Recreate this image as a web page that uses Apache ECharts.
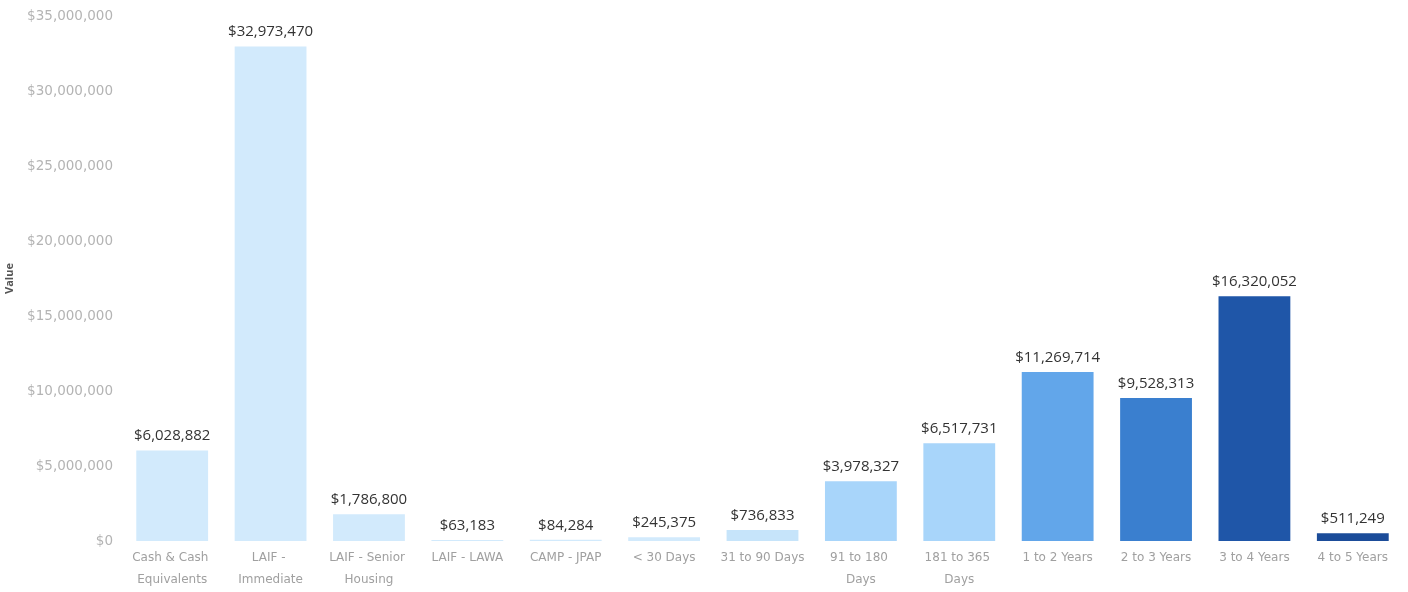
<!DOCTYPE html>
<html>
<head>
<meta charset="utf-8">
<script src="https://cdn.jsdelivr.net/npm/echarts@6/dist/echarts.min.js"></script>
<style>
html,body{margin:0;padding:0;background:#fff;}
#c{width:1408px;height:592px;}
</style>
</head>
<body>
<div id="c"></div>
<script>
const categories = ["Cash & Cash Equivalents","LAIF - Immediate","LAIF - Senior Housing","LAIF - LAWA","CAMP - JPAP","< 30 Days","31 to 90 Days","91 to 180 Days","181 to 365 Days","1 to 2 Years","2 to 3 Years","3 to 4 Years","4 to 5 Years"];
const values = [6028882,32973470,1786800,63183,84284,245375,736833,3978327,6517731,11269714,9528313,16320052,511249];
const barColors = ["#d2eafc","#d2eafc","#d2eafc","#d2eafc","#d2eafc","#d2eafc","#c6e4fa","#a8d5fa","#a8d5fa","#62a6ea","#3a7fcf","#1f56a8","#1b4c99"];
const yTicks = [0,5000000,10000000,15000000,20000000,25000000,30000000,35000000];

const fmt = v => "$" + Math.round(v).toLocaleString("en-US");
const chart = echarts.init(document.getElementById("c"));
chart.setOption({
  animation:false,
  grid:{left:123,right:6,top:16,bottom:51,containLabel:false,outerBoundsMode:"none"},
  xAxis:{
    type:"category",
    data:categories,
    axisLine:{show:false},
    axisTick:{show:false},
    axisLabel:{
      interval:0,
      color:"#a0a0a0",
      fontFamily:"DejaVu Sans",
      fontSize:12,
      lineHeight:22,
      margin:6,
      width:91,
      overflow:"break"
    }
  },
  yAxis:{
    type:"value",
    min:yTicks[0],
    max:yTicks[yTicks.length-1],
    interval:5000000,
    name:"Value",
    nameLocation:"middle",
    nameGap:108,
    nameMoveOverlap:false,
    nameTextStyle:{color:"#555",fontFamily:"Open Sans",fontSize:11,fontWeight:"bold"},
    splitLine:{show:false},
    axisLine:{show:false},
    axisTick:{show:false},
    axisLabel:{
      color:"#b4b4b4",
      fontFamily:"DejaVu Sans",
      fontSize:13.5,
      margin:10,
      formatter:v=>fmt(v)
    }
  },
  series:[{
    type:"bar",
    barWidth:"73%",
    data:values.map((v,i)=>({value:v,itemStyle:{color:barColors[i]}})),
    label:{
      show:true,
      position:"top",
      distance:7,
      color:"#333",
      fontFamily:"Open Sans",
      fontSize:15,
      formatter:p=>fmt(p.value)
    }
  }]
});
</script>
</body>
</html>
